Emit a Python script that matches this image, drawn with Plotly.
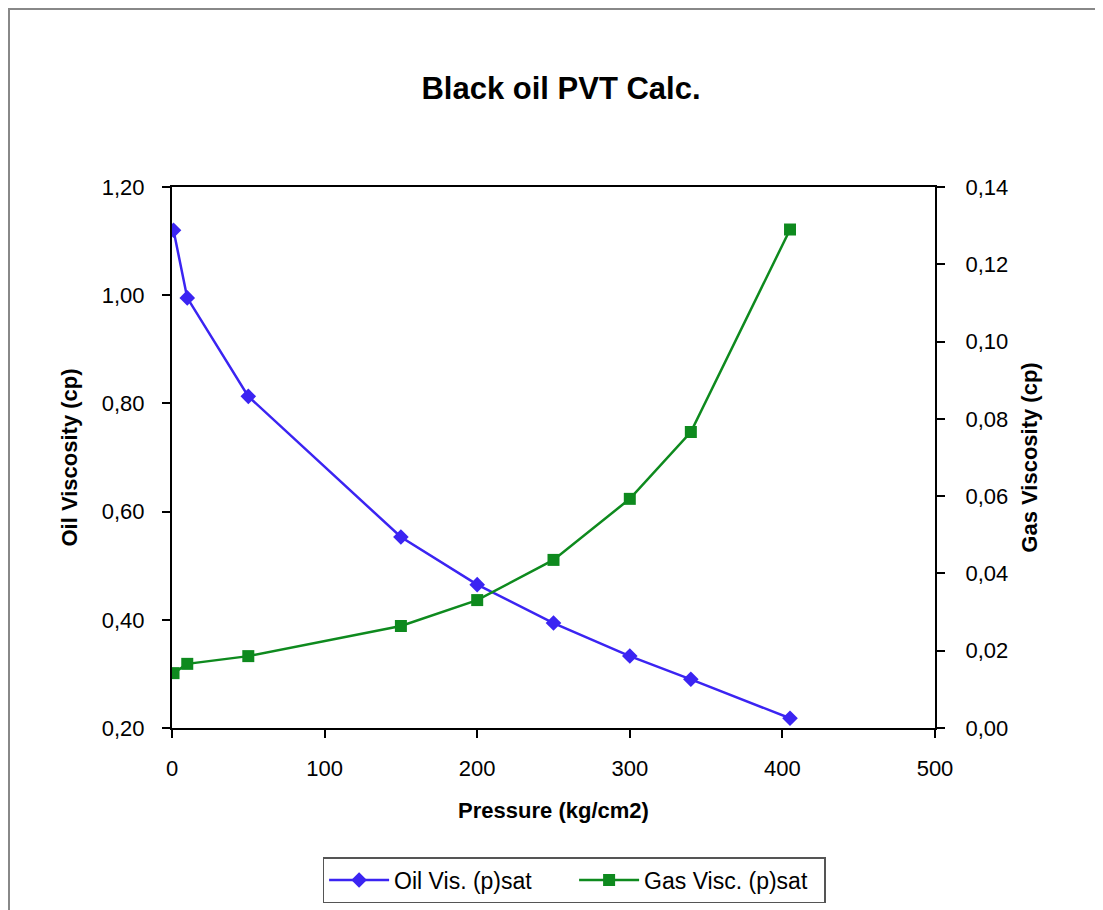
import plotly.graph_objects as go

pressure = [1, 10, 50, 150, 200, 250, 300, 340, 405]
oil_visc = [1.12, 0.995, 0.813, 0.553, 0.465, 0.394, 0.333, 0.290, 0.218]
gas_visc = [0.0142, 0.0166, 0.0186, 0.0264, 0.0331, 0.0435, 0.0593, 0.0766, 0.129]

left_ticks = [0.2, 0.4, 0.6, 0.8, 1.0, 1.2]
right_ticks = [0, 0.02, 0.04, 0.06, 0.08, 0.10, 0.12, 0.14]
x_ticks = [0, 100, 200, 300, 400, 500]

FONT = "Liberation Sans, Arial, sans-serif"
BLUE = "#3b24f2"
GREEN = "#0e8a1e"

fig = go.Figure()
fig.add_trace(go.Scatter(
    x=pressure, y=oil_visc, name="Oil Vis. (p)sat", mode="lines+markers",
    line=dict(color=BLUE, width=2.5),
    marker=dict(symbol="diamond", size=12, color=BLUE),
    yaxis="y"))
fig.add_trace(go.Scatter(
    x=pressure, y=gas_visc, name="Gas Visc. (p)sat", mode="lines+markers",
    line=dict(color=GREEN, width=2.5),
    marker=dict(symbol="square", size=12, color=GREEN),
    yaxis="y2"))

axis_common = dict(showgrid=False, zeroline=False, showline=True, linecolor="black",
                   linewidth=2, ticks="outside", ticklen=8, tickwidth=1.5, tickcolor="black",
                   tickfont=dict(family=FONT, size=22, color="black"))
title_font = dict(family=FONT, size=22, color="black")

# the page body has an 8px margin; figure coordinates are page coordinates minus 8
fig.update_layout(
    width=1095, height=902,
    margin=dict(l=164, r=168, t=179, b=182, autoexpand=False),
    paper_bgcolor="white", plot_bgcolor="white",
    separators=",.",
    title=dict(text="<b>Black oil PVT Calc.</b>", x=(561 - 8) / 1095, xref="container", xanchor="center",
               y=1 - 80 / 902, yref="container", yanchor="middle",
               font=dict(family=FONT, size=31, color="black")),
    xaxis=dict(range=[0, 500], tickvals=x_ticks, mirror=True, ticklabelstandoff=12,
               title=dict(text="<b>Pressure (kg/cm2)</b>", font=title_font, standoff=22),
               **axis_common),
    yaxis=dict(range=[0.2, 1.2], tickvals=left_ticks, tickformat=".2f", ticklabelstandoff=13,
               title=dict(text="<b>Oil Viscosity (cp)</b>", font=title_font, standoff=18),
               **axis_common),
    yaxis2=dict(range=[0, 0.14], tickvals=right_ticks, tickformat=".2f", overlaying="y", side="right",
                ticklabelstandoff=16,
                title=dict(text="<b>Gas Viscosity (cp)</b>", font=title_font, standoff=14),
                **axis_common),
    legend=dict(orientation="h", x=0.527, xanchor="center", y=-0.281, yanchor="middle",
                bordercolor="#555555", borderwidth=1.5, bgcolor="white",
                font=dict(family=FONT, size=23, color="black"),
                itemwidth=60, entrywidth=175, entrywidthmode="pixels"),
    showlegend=True,
)

# outer chart frame
fig.add_shape(type="rect", xref="paper", yref="paper",
              x0=(9 - 172) / 763, x1=(1130 - 172) / 763,
              y0=(728 - 940) / 541, y1=(728 - 9) / 541,
              line=dict(color="#888888", width=2), layer="below")

fig.write_html("out.html")
